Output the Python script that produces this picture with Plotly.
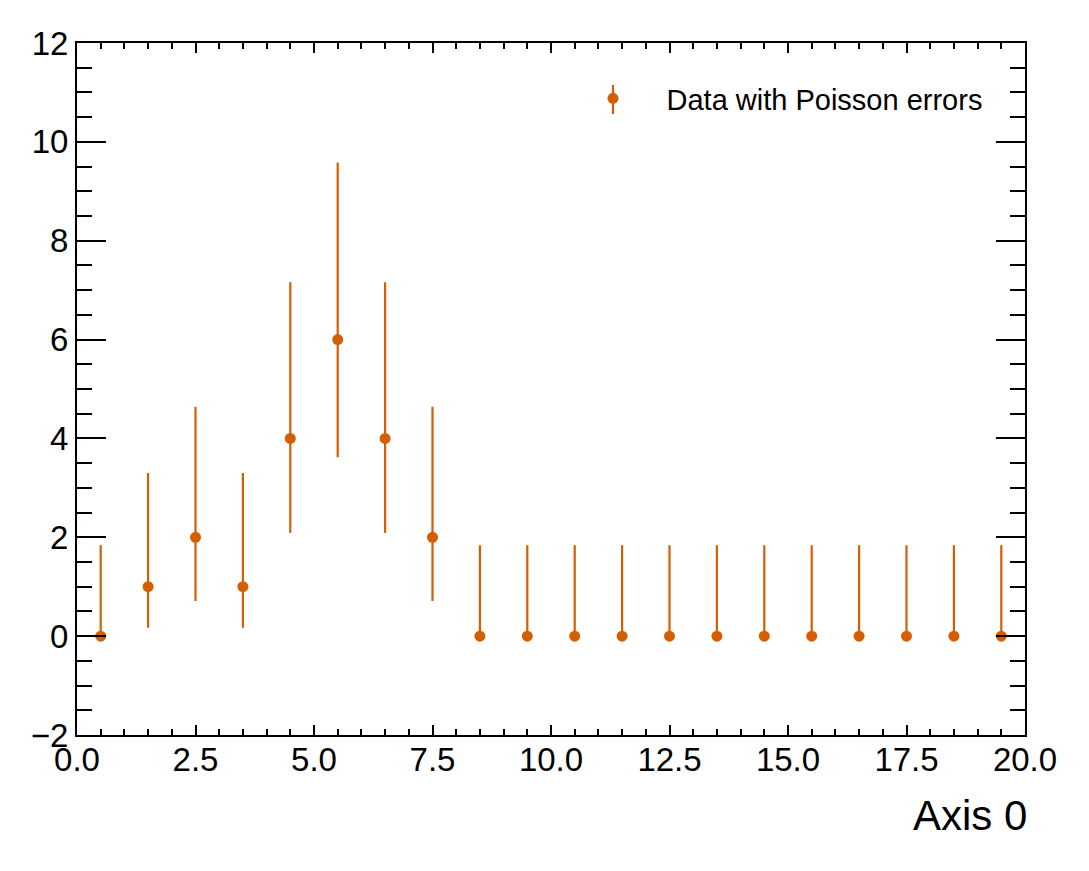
import plotly.graph_objects as go

# Data
bin_centers = [0.5, 1.5, 2.5, 3.5, 4.5, 5.5, 6.5, 7.5, 8.5, 9.5,
               10.5, 11.5, 12.5, 13.5, 14.5, 15.5, 16.5, 17.5, 18.5, 19.5]
counts = [0, 1, 2, 1, 4, 6, 4, 2, 0, 0, 0, 0, 0, 0, 0, 0, 0, 0, 0, 0]
err_up = [1.84, 2.30, 2.64, 2.30, 3.16, 3.58, 3.16, 2.64, 1.84, 1.84,
          1.84, 1.84, 1.84, 1.84, 1.84, 1.84, 1.84, 1.84, 1.84, 1.84]
err_down = [0.0, 0.83, 1.29, 0.83, 1.91, 2.38, 1.91, 1.29, 0.0, 0.0,
            0.0, 0.0, 0.0, 0.0, 0.0, 0.0, 0.0, 0.0, 0.0, 0.0]
series_name = "Data with Poisson errors"
x_title = "Axis 0"

COLOR = "#d55e00"
FONT = "Liberation Sans, Arial, Helvetica, sans-serif"

W, H = 1089, 871
L, R, T, B = 69, 72, 35, 144
pw = W - L - R
ph = H - T - B


def px(xf):
    return (xf - L) / pw


def py(yf):
    return 1 - (yf - T) / ph


fig = go.Figure()
fig.add_trace(go.Scatter(
    x=bin_centers, y=counts, mode="markers", name=series_name,
    marker=dict(color=COLOR, size=11),
    error_y=dict(type="data", array=err_up, arrayminus=err_down,
                 color=COLOR, thickness=2.2, width=0),
))

fig.update_layout(
    width=W, height=H,
    margin=dict(l=L, r=R, t=T, b=B),
    paper_bgcolor="white", plot_bgcolor="white",
    font=dict(family=FONT, color="black", size=33),
    showlegend=True,
    legend=dict(x=px(551.5), y=py(65), xanchor="left", yanchor="top",
                bgcolor="rgba(0,0,0,0)", font=dict(size=29, family=FONT),
                itemwidth=97),
    xaxis=dict(range=[0, 20], dtick=2.5, tick0=0, tickformat=".1f",
               showgrid=False, zeroline=False,
               showline=True, linecolor="black", linewidth=2, mirror="allticks",
               ticks="inside", ticklen=10, tickwidth=2, tickcolor="black",
               tickfont=dict(size=33, family=FONT), ticklabelstandoff=-6,
               minor=dict(dtick=0.5, tick0=0, ticks="inside", ticklen=6, tickwidth=1.5,
                          tickcolor="black", showgrid=False)),
    yaxis=dict(range=[-2, 12], dtick=2, tick0=0,
               showgrid=False, zeroline=False,
               showline=True, linecolor="black", linewidth=2, mirror="allticks",
               ticks="inside", ticklen=29, tickwidth=2, tickcolor="black",
               tickfont=dict(size=33, family=FONT),
               minor=dict(dtick=0.5, tick0=0, ticks="inside", ticklen=15, tickwidth=1.5,
                          tickcolor="black", showgrid=False)),
    annotations=[dict(text=x_title, xref="paper", yref="paper", x=1, y=py(782),
                      xanchor="right", yanchor="top", showarrow=False, xshift=4,
                      font=dict(size=42, family=FONT, color="black"))],
    shapes=[dict(type="line", xref="paper", yref="paper", x0=px(605), x1=px(605),
                 y0=py(77), y1=py(106),
                 line=dict(color=COLOR, width=2.2))],
)

fig.write_html("out.html")
